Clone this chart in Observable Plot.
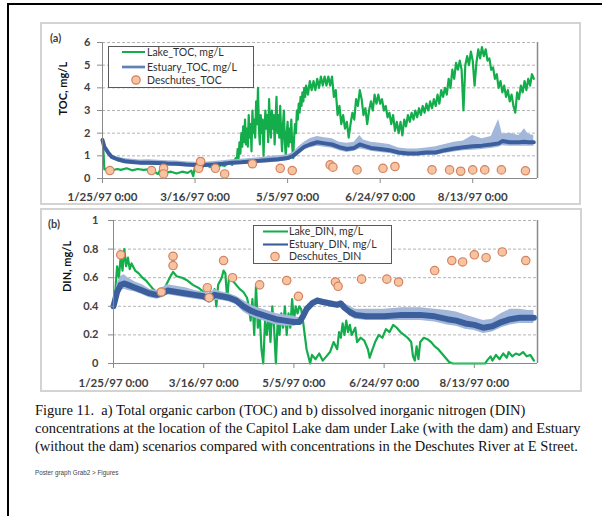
<!DOCTYPE html>
<html><head><meta charset="utf-8">
<script src="https://cdn.jsdelivr.net/npm/d3@7"></script>
<script src="https://cdn.jsdelivr.net/npm/@observablehq/plot@0.6"></script>
<style>
html,body{margin:0;padding:0;background:#fff}
body{width:602px;height:516px;overflow:hidden;position:relative;font-family:Lato,"Liberation Sans",sans-serif}
.outer{position:absolute;left:7px;top:3px;width:800px;height:800px;border-top:2px solid #000;border-left:2px solid #000}
.panel{position:absolute;border:2px solid #d3d3d3;box-sizing:border-box;background:#fff}
.chart{position:absolute}
.tag{position:absolute;font-size:11px;color:#404040;font-weight:bold}
.legend{position:absolute;border:1.5px solid #595959;background:#fff;box-sizing:border-box}
.legend .t{position:absolute;font-size:10.5px;color:#303030;white-space:nowrap;line-height:12px}
.legend svg{position:absolute;left:0;top:0}
.caption{position:absolute;left:35px;top:401px;font-family:"Liberation Serif","Times New Roman",serif;font-size:14.5px;line-height:18.2px;color:#111;white-space:nowrap}
.foot{position:absolute;left:35px;top:469px;font-size:6.3px;color:#444;font-family:"Liberation Sans",sans-serif}
</style></head>
<body>
<div class="outer"></div>
<div class="panel" style="left:40px;top:22px;width:541px;height:183px"></div>
<div class="panel" style="left:40px;top:208px;width:542px;height:184px"></div>
<div id="a" class="chart" style="left:40px;top:23px"></div>
<div id="b" class="chart" style="left:40px;top:209px"></div>
<div class="tag" style="left:50px;top:31px">(a)</div>
<div class="tag" style="left:48px;top:217px">(b)</div>
<div id="la" class="legend" style="left:108px;top:46px;width:146px;height:42px"></div>
<div id="lb" class="legend" style="left:253px;top:225px;width:139px;height:39px"></div>
<div class="caption">Figure 11.&nbsp; a) Total organic carbon (TOC) and b) dissolved inorganic nitrogen (DIN)<br>concentrations at the location of the Capitol Lake dam under Lake (with the dam) and Estuary<br>(without the dam) scenarios compared with concentrations in the Deschutes River at E Street.</div>
<div class="foot">Poster graph Grab2 &gt; Figures</div>
<script>
// ---------- data ----------
const startDay = Date.UTC(1997, 0, 25);
const domainDays = [0, 235];
const xTickDays = [0, 50, 100, 150, 200];
const xTickLabels = ["1/25/97 0:00", "3/16/97 0:00", "5/5/97 0:00", "6/24/97 0:00", "8/13/97 0:00"];
const tocTicks = [0, 1, 2, 3, 4, 5, 6];
const dinTicks = [0, 0.2, 0.4, 0.6, 0.8, 1];
const tocSeriesNames = ["Lake_TOC, mg/L", "Estuary_TOC, mg/L", "Deschutes_TOC"];
const dinSeriesNames = ["Lake_DIN, mg/L", "Estuary_DIN, mg/L", "Deschutes_DIN"];

// Deschutes grab samples (day offset from 1/25/97)
const desDays = [4, 26.5, 33, 33, 52, 53, 61, 66, 81, 96, 102.5, 123, 124.5, 137.5, 151.5, 158, 178, 187.5, 193.5, 200, 206.5, 215.5, 228.5];
const desTOC = [0.35, 0.35, 0.45, 0.2, 0.45, 0.75, 0.45, 0.2, 0.65, 0.45, 0.35, 0.6, 0.5, 0.38, 0.45, 0.53, 0.38, 0.38, 0.32, 0.38, 0.38, 0.38, 0.34];
const desDIN = [0.76, 0.5, 0.75, 0.685, 0.53, 0.46, 0.72, 0.6, 0.55, 0.58, 0.47, 0.57, 0.54, 0.59, 0.59, 0.57, 0.65, 0.72, 0.71, 0.76, 0.74, 0.78, 0.72];

// Lake TOC [day, value]
const lakeTOC = [[0,1.75],[0.5,1.2],[1,0.4],[3,0.45],[5,0.35],[8,0.42],[10,0.38],[13,0.45],[16,0.36],[19,0.42],[22,0.38],[25,0.4],[28,0.3],[30,0.2],[31,0.35],[34,0.25],[37,0.3],[40,0.22],[43,0.3],[46,0.25],[48,0.35],[49,0.1],[50,0.55],[52,0.6],[54,0.5],[56,0.65],[58,0.5],[60,0.6],[62,0.45],[64,0.6],[66,0.55],[68,0.7],[70,0.6],
[72,0.9],[72.5,0.7],[73,1.3],[73.5,0.9],[74,1.6],[74.5,1.1],[75,2.0],[75.5,1.4],[76,2.3],[76.5,1.6],[77,2.6],[77.5,1.5],[78,2.2],[78.5,1.4],[79,2.8],[79.5,1.8],[80,2.4],[80.5,1.2],[81,3.0],[81.5,2.0],[82,2.6],[82.5,1.8],[83,3.4],[83.5,2.4],[84,4.0],[84.5,2.2],[85,1.5],[85.5,2.8],[86,2.0],[86.5,2.6],[87,1.0],[87.5,2.2],[88,3.0],[88.5,2.2],[89,2.8],[89.5,1.6],[90,3.5],[90.5,2.4],[91,1.8],[91.5,3.0],[92,2.2],[92.5,2.8],[93,1.5],[93.5,2.6],[94,3.6],[94.5,2.0],[95,2.8],[95.5,1.8],[96,3.2],[96.5,2.0],[97,1.2],[97.5,2.4],[98,3.0],[98.5,1.6],[99,1.0],[99.5,2.0],[100,2.5],[100.5,1.4],[101,2.2],[101.5,1.6],[102,2.6],[102.5,1.4],[103,0.9],[103.5,1.8],[104,2.4],[104.5,2.0],[105,3.0],[105.5,2.6],[106,3.3],[106.5,2.9],[107,3.6],[107.5,3.2],[108,3.8],[108.5,3.4],[109,4.0],[109.5,3.6],
[110,4.1],[111,3.7],[112,4.3],[113,3.9],[114,4.3],[115,3.9],[116,4.4],[117,4.0],[118,4.5],[119,4.1],[120,4.5],[121,4.1],[122,4.5],[123,4.1],[124,4.5],[125,3.6],[126,3.9],[127,2.8],[128,3.2],[129,2.4],[130,2.8],[131,2.2],[132,2.5],[133,1.8],[134,2.4],[135,2.9],[136,2.6],[137,3.5],[138,3.2],[139,3.9],[140,3.5],[141,2.8],[142,3.1],[143,2.4],[144,3.0],[145,3.4],[146,3.0],[147,3.7],[148,3.3],[149,3.7],[150,3.3],[151,3.5],[152,3.0],[153,3.2],[154,2.7],[155,2.9],[156,2.4],[157,2.8],[158,2.1],[159,2.5],[160,2.0],[161,2.5],[162,1.9],[163,2.6],[164,2.3],[165,2.8],[166,2.5],[167,2.9],[168,2.6],[169,3.0],[170,2.7],[171,3.1],[172,2.8],[173,3.2],[174,2.9],[175,3.3],[176,3.0],[177,3.4],[178,3.1],[179,3.5],[180,3.2],[181,3.7],[182,3.3],[183,3.9],[184,3.6],[185,4.0],[186,3.7],[187,4.4],[188,4.0],[189,4.8],[190,4.4],[191,5.1],[192,4.8],[193,5.2],[194,4.8],[195,3.0],[196,5.0],[197,5.4],[198,5.0],[199,5.6],[200,5.2],[201,4.1],[202,5.1],[203,5.7],[204,5.3],[205,5.8],[206,5.4],[207,5.7],[208,5.2],[209,5.3],[210,4.8],[211,4.9],[212,4.4],[213,4.6],[214,4.0],[215,4.3],[216,3.8],[217,4.1],[218,3.6],[219,3.9],[220,3.4],[221,3.7],[222,3.2],[223,2.9],[224,3.8],[225,3.5],[226,4.1],[227,3.8],[228,4.3],[229,3.9],[230,4.4],[231,4.1],[232,4.6],[233,4.4]];

// Estuary TOC band
const estTocDays = [0,1,3,5,8,12,16,20,25,30,35,40,45,50,55,60,65,70,75,80,85,90,95,100,103,106,109,112,116,120,124,128,132,136,139,141,145,150,155,160,165,170,175,180,185,190,195,200,205,210,214,216,220,225,228,230,233];
const estTocMid = [1.7,1.4,1.15,0.95,0.85,0.76,0.73,0.7,0.7,0.68,0.66,0.65,0.62,0.6,0.6,0.62,0.65,0.7,0.72,0.75,0.78,0.82,0.85,0.9,1.0,1.2,1.4,1.5,1.6,1.55,1.5,1.38,1.3,1.35,1.5,1.45,1.35,1.3,1.25,1.15,1.1,1.1,1.15,1.15,1.25,1.32,1.38,1.42,1.45,1.5,1.55,1.65,1.6,1.6,1.62,1.6,1.6];
const estTocHi = [1.75,1.5,1.25,1.05,0.95,0.88,0.85,0.82,0.83,0.8,0.78,0.77,0.74,0.72,0.72,0.75,0.78,0.83,0.85,0.88,0.92,0.97,1.0,1.05,1.15,1.4,1.6,1.75,1.85,1.8,1.75,1.6,1.55,1.6,1.9,1.7,1.6,1.55,1.5,1.35,1.3,1.3,1.35,1.4,1.5,1.6,1.65,1.9,1.75,1.85,2.6,1.95,2.0,1.9,2.2,1.95,1.9];
const estTocLo = [1.6,1.3,1.05,0.85,0.75,0.66,0.62,0.6,0.59,0.57,0.55,0.54,0.52,0.5,0.5,0.52,0.55,0.6,0.62,0.64,0.67,0.7,0.73,0.78,0.87,1.05,1.25,1.35,1.42,1.38,1.33,1.22,1.15,1.2,1.3,1.28,1.2,1.15,1.1,1.02,0.98,0.98,1.02,1.03,1.1,1.17,1.22,1.25,1.28,1.32,1.38,1.45,1.42,1.42,1.42,1.42,1.42];

// Lake DIN [day, value]
const lakeDIN = [[0,0.40],[1,0.5],[2,0.68],[3,0.6],[4,0.75],[5,0.65],[6,0.8],[7,0.68],[8,0.74],[9,0.66],[10,0.7],[12,0.65],[14,0.63],[16,0.6],[18,0.58],[20,0.55],[22,0.52],[24,0.5],[26,0.48],[28,0.52],[30,0.57],[32,0.62],[33,0.64],[35,0.61],[38,0.6],[41,0.58],[44,0.55],[47,0.53],[50,0.5],[52,0.47],[54,0.5],[55,0.45],[56,0.52],[57,0.4],[58,0.55],[60,0.6],[61,0.65],[62,0.63],[63,0.45],[64,0.6],[66,0.58],[68,0.55],[70,0.52],[72,0.5],[74,0.46],[75,0.4],[76,0.3],[77,0.45],[78,0.2],[79,0.55],[80,0.25],[81,0.35],[82,0.1],[83,0.0],[84,0.3],[85,0.2],[86,0.35],[87,0.15],[88,0.4],[89,0.25],[90,0.0],[91,0.3],[92,0.2],[93,0.35],[94,0.25],[95,0.4],[96,0.2],[97,0.35],[98,0.25],[99,0.45],[100,0.3],[101,0.4],[102,0.35],[103,0.4],[104,0.38],[105,0.3],[106,0.2],[107,0.1],[108,0.05],[109,0.0],[110,0.06],[112,0.03],[114,0.07],[116,0.02],[118,0.05],[120,0.08],[122,0.15],[124,0.1],[125,0.22],[126,0.18],[127,0.28],[128,0.2],[129,0.3],[130,0.22],[131,0.27],[132,0.2],[134,0.25],[135,0.15],[137,0.18],[139,0.16],[141,0.1],[142,0.04],[143,0.08],[145,0.15],[147,0.2],[149,0.18],[151,0.24],[153,0.22],[155,0.27],[157,0.25],[159,0.22],[161,0.2],[163,0.18],[165,0.15],[166,0.05],[167,0.02],[168,0.12],[169,0.03],[170,0.15],[172,0.18],[174,0.17],[176,0.15],[178,0.12],[180,0.1],[182,0.07],[184,0.04],[186,0.01],[188,0],[206,0],[207,0.02],[209,0.05],[210,0.02],[212,0.06],[214,0.03],[216,0.07],[218,0.04],[219,0.08],[221,0.05],[223,0.07],[225,0.06],[227,0.08],[229,0.05],[231,0.06],[233,0.02]];

// Estuary DIN band
const estDinDays = [0,2,4,6,8,12,16,20,24,27,30,35,40,45,50,53,56,60,64,68,72,76,80,85,90,95,100,103,105,107,110,113,116,120,124,126,128,131,134,140,150,160,170,178,185,190,195,200,205,210,215,220,225,230,233];
const estDinMid = [0.4,0.5,0.55,0.56,0.55,0.53,0.51,0.49,0.48,0.49,0.51,0.5,0.49,0.48,0.47,0.45,0.48,0.47,0.46,0.44,0.4,0.37,0.35,0.33,0.31,0.3,0.29,0.29,0.33,0.38,0.42,0.44,0.43,0.42,0.41,0.42,0.39,0.36,0.34,0.33,0.33,0.34,0.34,0.33,0.31,0.3,0.28,0.27,0.25,0.26,0.29,0.31,0.32,0.32,0.32];
const estDinHi = [0.42,0.56,0.61,0.62,0.6,0.57,0.55,0.52,0.51,0.53,0.55,0.54,0.53,0.51,0.5,0.49,0.52,0.5,0.49,0.47,0.44,0.41,0.39,0.37,0.35,0.34,0.33,0.32,0.36,0.4,0.44,0.46,0.45,0.44,0.43,0.44,0.42,0.4,0.38,0.38,0.38,0.39,0.39,0.38,0.37,0.36,0.34,0.32,0.3,0.31,0.35,0.38,0.38,0.37,0.37];
const estDinLo = [0.39,0.46,0.51,0.52,0.51,0.5,0.48,0.46,0.45,0.46,0.48,0.47,0.46,0.45,0.44,0.42,0.44,0.44,0.43,0.41,0.36,0.33,0.31,0.29,0.27,0.26,0.26,0.27,0.31,0.36,0.4,0.42,0.41,0.4,0.39,0.4,0.37,0.33,0.31,0.3,0.3,0.3,0.3,0.29,0.27,0.26,0.24,0.23,0.21,0.22,0.25,0.27,0.28,0.28,0.28];

// ---------- helpers ----------
const toDate = d => new Date(startDay + d * 86400000);
const xDomain = domainDays.map(toDate);
const xTicks = xTickDays.map(toDate);
const tickLabel = new Map(xTicks.map((t, i) => [+t, xTickLabels[i]]));
const pairs = arr => arr.map(([d, v]) => ({date: toDate(d), v}));
const band = (days, lo, mid, hi) => days.map((d, i) => ({date: toDate(d), lo: lo[i], mid: mid[i], hi: hi[i]}));
const samples = vals => desDays.map((d, i) => ({date: toDate(d), v: vals[i]}));

const C = {lake: "#13ad4b", estDark: "#3b5f9c", estLight: "#a3b7da", dotFill: "#f7c4a2", dotStroke: "#d4825f", grid: "#b4b4b4", axis: "#8a8a8a", text: "#404040"};

function panel({yTicks, yDomain, lake, est, des, ylabel, margins, size, tickPadY, tickPadX, labelDx, labelDy, coreWidth}) {
  return Plot.plot({
    width: size[0], height: size[1],
    marginLeft: margins[0], marginRight: margins[1], marginTop: margins[2], marginBottom: margins[3],
    style: {fontFamily: "Lato, 'Liberation Sans', sans-serif", fontSize: "11px", background: "transparent", overflow: "visible"},
    x: {type: "utc", domain: xDomain},
    y: {domain: yDomain},
    marks: [
      Plot.gridY(yTicks.filter(t => t > 0), {stroke: C.grid, strokeOpacity: 1, strokeDasharray: "3,2"}),
      Plot.ruleX([xDomain[1]], {stroke: C.axis, strokeWidth: 1.5}),
      Plot.line(lake, {x: "date", y: "v", stroke: C.lake, strokeWidth: 2.2}),
      Plot.areaY(est, {x: "date", y1: "lo", y2: "hi", fill: C.estLight, curve: "linear"}),
      Plot.line(est, {x: "date", y: "mid", stroke: C.estDark, strokeWidth: coreWidth}),
      Plot.ruleX([xDomain[0]], {stroke: C.axis, strokeWidth: 1}),
      Plot.ruleY([yDomain[0]], {stroke: C.axis, strokeWidth: 1}),
      Plot.dot(des, {x: "date", y: "v", r: 4.2, fill: C.dotFill, stroke: C.dotStroke, strokeWidth: 1.2}),
      Plot.axisY(yTicks, {tickSize: 5, tickPadding: tickPadY, stroke: C.axis, fill: C.text, fontWeight: "bold", fontSize: 11, label: null, tickFormat: d => String(d)}),
      Plot.axisX(xTicks, {tickSize: 5, tickPadding: tickPadX, stroke: C.axis, fill: C.text, fontWeight: "bold", fontSize: 11.5, label: null, tickFormat: d => tickLabel.get(+d)}),
      Plot.text([ylabel], {frameAnchor: "left", rotate: -90, dx: labelDx, dy: labelDy, fontWeight: "bold", fontSize: 11, fill: "#111"})
    ]
  });
}

document.getElementById("a").append(panel({
  yTicks: tocTicks, yDomain: [0, 6], lake: pairs(lakeTOC),
  est: band(estTocDays, estTocLo, estTocMid, estTocHi), des: samples(desTOC),
  ylabel: "TOC, mg/L", margins: [62, 43, 19, 26], size: [540, 181],
  tickPadY: 7, tickPadX: 9, labelDx: -39, labelDy: 5, coreWidth: 4
}));
document.getElementById("b").append(panel({
  yTicks: dinTicks, yDomain: [0, 1], lake: pairs(lakeDIN),
  est: band(estDinDays, estDinLo, estDinMid, estDinHi), des: samples(desDIN),
  ylabel: "DIN, mg/L", margins: [73, 44, 11, 28], size: [541, 182],
  tickPadY: 10, tickPadX: 10, labelDx: -46, labelDy: 0, coreWidth: 6
}));

// ---------- legends ----------
function legend(el, names, rows, sw, textX, dotX) {
  const w = el.clientWidth, h = el.clientHeight;
  const ns = "http://www.w3.org/2000/svg";
  const svg = document.createElementNS(ns, "svg");
  svg.setAttribute("width", w); svg.setAttribute("height", h);
  const mk = (tag, attrs) => { const e = document.createElementNS(ns, tag); for (const k in attrs) e.setAttribute(k, attrs[k]); svg.append(e); };
  mk("line", {x1: sw[0], x2: sw[1], y1: rows[0], y2: rows[0], stroke: C.lake, "stroke-width": 2});
  mk("line", {x1: sw[0], x2: sw[1], y1: rows[1], y2: rows[1], stroke: "#8aa6d2", "stroke-width": 3});
  mk("line", {x1: sw[0], x2: sw[1], y1: rows[1], y2: rows[1], stroke: C.estDark, "stroke-width": 1});
  mk("circle", {cx: dotX, cy: rows[2], r: 4.2, fill: C.dotFill, stroke: C.dotStroke, "stroke-width": 1.2});
  el.append(svg);
  names.forEach((n, i) => {
    const t = document.createElement("div");
    t.className = "t"; t.textContent = n;
    t.style.left = textX + "px"; t.style.top = (rows[i] - 6.5) + "px";
    el.append(t);
  });
}
legend(document.getElementById("la"), tocSeriesNames, [5, 20, 33], [13, 36], 38, 27);
legend(document.getElementById("lb"), dinSeriesNames, [5.5, 18.5, 30.5], [9, 34], 35, 21);
</script>
</body></html>
